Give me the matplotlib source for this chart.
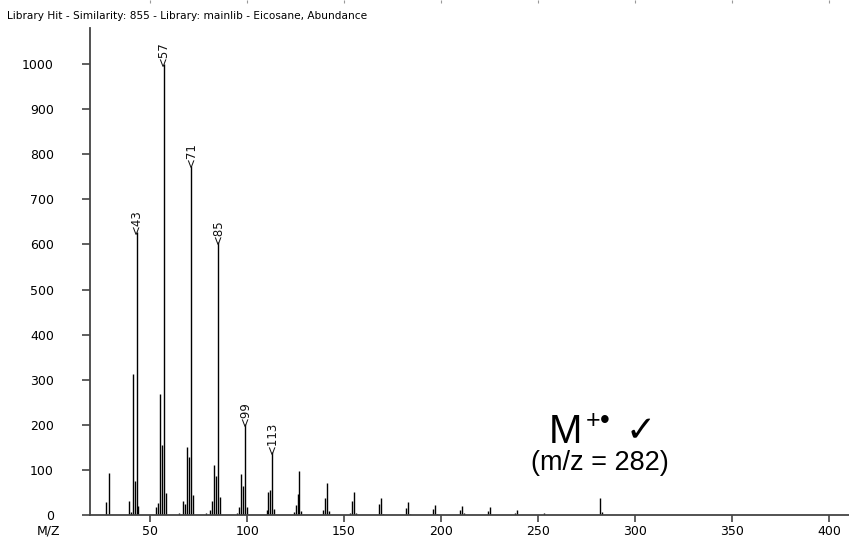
import matplotlib
matplotlib.use("Agg")
import matplotlib.pyplot as plt
import matplotlib.transforms as mtransforms

# Eicosane library spectrum
mz = [27, 29, 39, 40, 41, 42, 43, 44,
      53, 54, 55, 56, 57, 58,
      65, 67, 68, 69, 70, 71, 72,
      79, 81, 82, 83, 84, 85, 86,
      95, 96, 97, 98, 99, 100,
      110, 111, 112, 113, 114,
      124, 125, 126, 127, 128,
      139, 140, 141, 142,
      153, 154, 155, 156,
      168, 169, 170,
      182, 183, 184,
      196, 197, 198,
      210, 211, 212,
      224, 225,
      238, 239,
      253,
      282, 283]
abundance = [29, 93, 32, 7, 313, 76, 628, 20,
             18, 27, 268, 155, 1000, 49,
             5, 30, 24, 151, 129, 775, 44,
             4, 10, 32, 111, 86, 606, 41,
             4, 18, 91, 65, 202, 17,
             10, 50, 55, 139, 13,
             6, 22, 47, 97, 9,
             10, 38, 72, 8,
             4, 31, 51, 5,
             24, 38, 3,
             16, 28, 3,
             14, 22, 3,
             11, 20, 4,
             9, 18,
             5, 10,
             5,
             37, 7]
labelled = [43, 57, 71, 85, 99, 113]

x_ticks = [50, 100, 150, 200, 250, 300, 350, 400]
y_ticks = [0, 100, 200, 300, 400, 500, 600, 700, 800, 900, 1000]

fig = plt.figure(figsize=(8.49, 5.39), dpi=100)
W, H = 849, 539
ax = fig.add_axes([90 / W, (H - 515) / H, (849 - 90) / W, (515 - 28) / H])

ax.vlines(mz, 0, abundance, color="black", linewidth=1.0)

for m in labelled:
    i = mz.index(m)
    ax.text(m, abundance[i] - 4, "<" + str(m), rotation=90, ha="center",
            va="bottom", fontsize=8.5, color="#111111")

ax.set_xlim(19, 410.3)
ax.set_ylim(0, 1080)
ax.set_xticks(x_ticks)
ax.set_yticks(y_ticks)
for side in ["top", "right"]:
    ax.spines[side].set_visible(False)
for side in ["left", "bottom"]:
    ax.spines[side].set_color("#444444")
    ax.spines[side].set_linewidth(1.3)
ax.tick_params(axis="y", direction="out", length=6, width=1.2, color="#444444",
               labelsize=9, pad=20)
ax.tick_params(axis="x", direction="out", length=5, width=1.2, color="#444444",
               labelsize=9, pad=2)

fig.text(7 / W, (H - 19) / H, "Library Hit - Similarity: 855 - Library: mainlib - Eicosane, Abundance",
         fontsize=7.6, va="baseline", ha="left")
fig.text(48 / W, (H - 534) / H, "M/Z", fontsize=9, ha="center", va="baseline")

# small tick remnants along the top edge
trans = mtransforms.blended_transform_factory(ax.transData, fig.transFigure)
for xt in x_ticks:
    ax.plot([xt, xt], [1.0, 1 - 2.5 / H], transform=trans, color="#999999",
            linewidth=0.8, solid_capstyle="butt", clip_on=False)

# molecular ion annotation
sans = ["Liberation Sans", "DejaVu Sans"]
fig.text(549 / W, (H - 443) / H, "M", fontsize=29, family=sans, va="baseline")
fig.text(586 / W, (H - 428) / H, "+", fontsize=18, family=sans, va="baseline")
fig.text(600 / W, (H - 428) / H, "\u2022", fontsize=20, family=sans, va="baseline")
fig.text(626 / W, (H - 441) / H, "\u2713", fontsize=26, family=["DejaVu Sans"], va="baseline")
fig.text(531 / W, (H - 470) / H, "(m/z = 282)", fontsize=19.5, family=sans, va="baseline")

fig.savefig("out.png", dpi=100)
plt.close(fig)
